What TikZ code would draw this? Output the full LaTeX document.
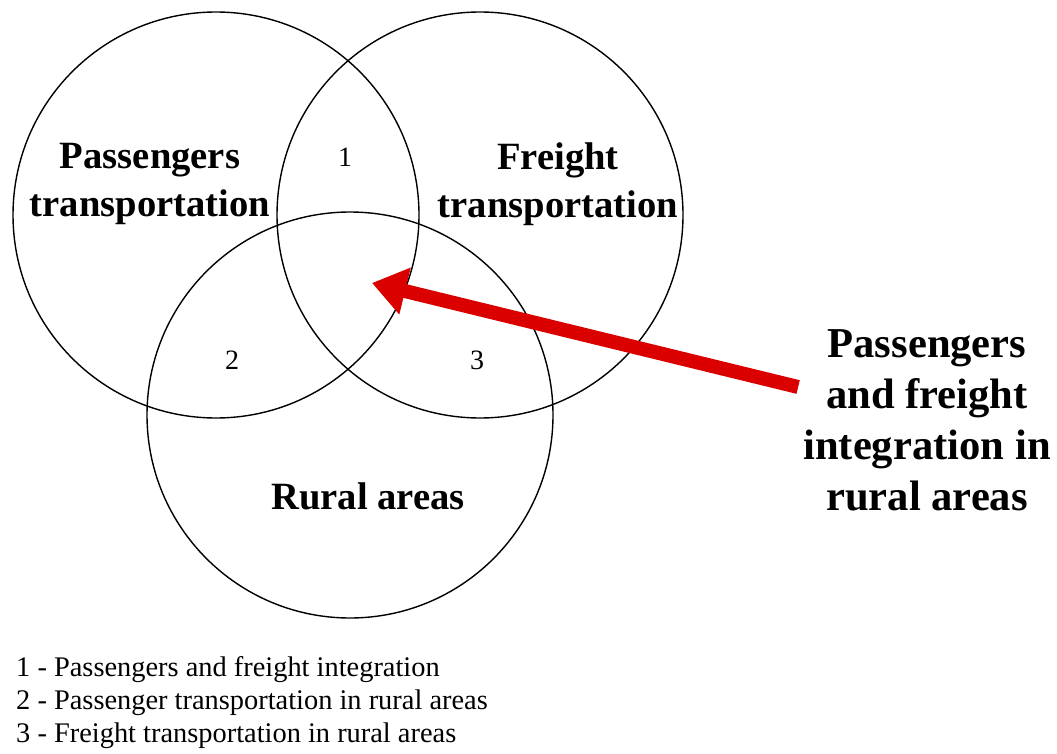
\documentclass[tikz,border=0pt]{standalone}
\usepackage{fontspec}
\setmainfont{Liberation Serif}
\usepackage{tikz}
\usetikzlibrary{arrows.meta,positioning}

\definecolor{arrowred}{RGB}{218,0,0}

\begin{document}
\begin{tikzpicture}[
    x=1pt, y=-1pt,
    venn/.style={circle, draw, line width=1.4pt, minimum size=406pt, inner sep=0pt},
    setname/.style={font=\fontsize{38.6}{48}\selectfont\bfseries, align=center, inner sep=0pt},
    regnum/.style={font=\fontsize{28}{33}\selectfont, inner sep=0pt},
    legend/.style={font=\fontsize{28.4}{33}\selectfont, anchor=base west, inner sep=0pt},
    bigarrow/.style={-{Triangle[length=34pt, width=46pt]}, line width=14pt, draw=arrowred}
]
\useasboundingbox (0,0) rectangle (1057,754);

% Circles
\node[venn] (pass) at (216,215) {};
\node[venn] (freight) at (480,215) {};
\node[venn] (rural) at (350,415) {};

% Set names
\node[setname] (passname) at (150,184) {Passengers\\transportation};
\node[setname] (freightname) at (558,184) {Freight\\transportation};
\node[setname] (ruralname) at (368,496) {Rural areas};

% Overlap numbers
\node[regnum] (n1) at (345,157) {1};
\node[regnum] (n2) at (232,360) {2};
\node[regnum] (n3) at (477,360) {3};

% Pointer to the common part
\node[setname, font=\fontsize{42.6}{51}\selectfont\bfseries] (integ) at (927,420)
    {Passengers\\and freight\\integration in\\rural areas};
\coordinate (core) at (372,283);
\draw[bigarrow] ([xshift=-5pt,yshift=33pt]integ.west) -- (core);

% Legend
\node[legend] (leg1) at (16,676) {1 - Passengers and freight integration};
\node[legend] (leg2) at ([yshift=-33pt]leg1.base west) {2 - Passenger transportation in rural areas};
\node[legend] (leg3) at ([yshift=-33pt]leg2.base west) {3 - Freight transportation in rural areas};

\end{tikzpicture}
\end{document}
